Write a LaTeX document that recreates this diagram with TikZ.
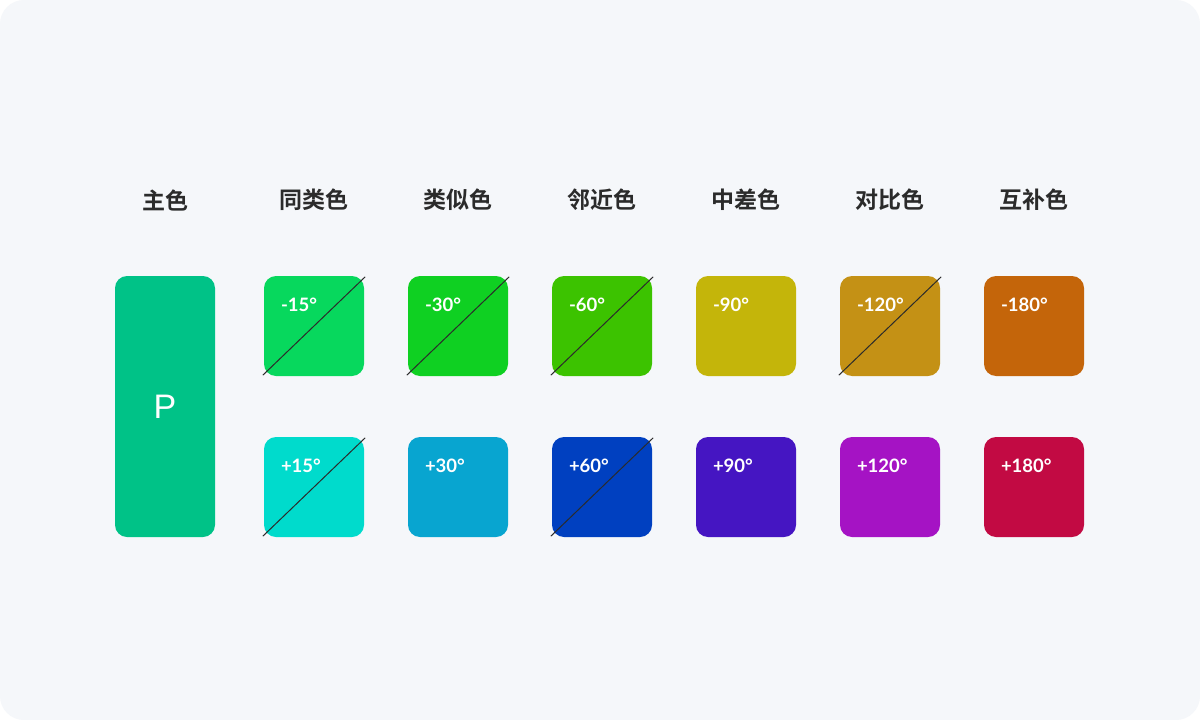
\documentclass[tikz,border=0pt]{standalone}
\usepackage{fontspec}
\setmainfont{Lato}
\newfontfamily\cjk{Noto Sans CJK SC}[BoldFont={* Bold}]
\newfontfamily\psans{Liberation Sans}
\definecolor{bgc}{HTML}{F5F7FA}
\definecolor{cP}{HTML}{00C287}
\definecolor{cA}{HTML}{07D85D}
\definecolor{cB}{HTML}{00DBCC}
\definecolor{cC}{HTML}{0FD022}
\definecolor{cD}{HTML}{08A5D0}
\definecolor{cE}{HTML}{3CC300}
\definecolor{cF}{HTML}{0040C0}
\definecolor{cG}{HTML}{C4B50A}
\definecolor{cH}{HTML}{4515C2}
\definecolor{cI}{HTML}{C49115}
\definecolor{cJ}{HTML}{A513C4}
\definecolor{cK}{HTML}{C4650A}
\definecolor{cL}{HTML}{C20A43}
\definecolor{txt}{HTML}{2B2B2B}
\begin{document}
\begin{tikzpicture}[x=1pt,y=-1pt,
  swatch/.style={rounded corners=12pt, minimum width=100pt, minimum height=100pt, inner sep=0pt, draw=none},
  head/.style={font=\cjk\bfseries\fontsize{23}{27}\selectfont, text=txt},
  lab/.style={font=\bfseries\fontsize{18.5}{22}\selectfont, text=white, anchor=west, inner sep=0pt},
  diag/.style={draw=txt, line width=1pt}]
\useasboundingbox (0,0) rectangle (1200,720);
\fill[white] (0,0) rectangle (1200,720);
\fill[bgc, rounded corners=24pt] (0,0) rectangle (1200,720);
% headings
\foreach \x/\t [count=\i] in {165/主色,314/同类色,458/类似色,602/邻近色,746/中差色,890/对比色,1034/互补色}
  \node[head] (h\i) at (\x,200) {\t};
% primary
\node[rounded corners=12pt, minimum width=100pt, minimum height=261pt, inner sep=0pt, fill=cP,
  font=\psans\fontsize{34}{38}\selectfont, text=white] (P) at (165,406.5) {P};
% swatches
\foreach \x/\ca/\la/\cb/\lb [count=\i] in {314/cA/-15°/cB/+15°, 458/cC/-30°/cD/+30°, 602/cE/-60°/cF/+60°, 746/cG/-90°/cH/+90°, 890/cI/-120°/cJ/+120°, 1034/cK/-180°/cL/+180°}{
  \node[swatch, fill=\ca] (t\i) at (\x,326) {};
  \node[swatch, fill=\cb] (b\i) at (\x,487) {};
  \node[lab] (tl\i) at ([xshift=17pt,yshift=-28.5pt]t\i.north west) {\la};
  \node[lab] (bl\i) at ([xshift=17pt,yshift=-28.5pt]b\i.north west) {\lb};
}
% diagonals
\foreach \n in {t1,b1,t2,t3,b3,t5}
  \draw[diag] ([shift={(-1pt,1pt)}]\n.south west) -- ([shift={(1pt,-1pt)}]\n.north east);
\end{tikzpicture}
\end{document}
